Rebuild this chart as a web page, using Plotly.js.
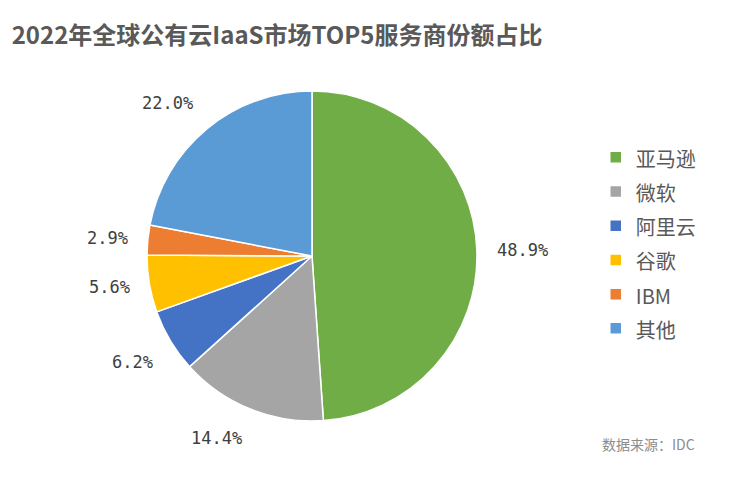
<!DOCTYPE html>
<html>
<head>
<meta charset="utf-8">
<script src="https://cdn.plot.ly/plotly-3.0.1.min.js"></script>
<style>
  html, body { margin: 0; padding: 0; background: #fff; }
  #chart { width: 731px; height: 477px; }
</style>
</head>
<body>
<div id="chart"></div>
<script>
// 2022 global public cloud IaaS share, top 5 vendors
const vendors = ['亚马逊', '微软', '阿里云', '谷歌', 'IBM', '其他'];
const shares = [48.9, 14.4, 6.2, 5.6, 2.9, 22.0];
const sliceColors = ['#70AD47', '#A5A5A5', '#4472C4', '#FFC000', '#ED7D31', '#5B9BD5'];

const W = 731, H = 477;
const pieDomain = { x: [0.2011, 0.6525], y: [0.1174, 0.8092] };

const cjk = '"Noto Sans CJK SC", "Noto Sans", sans-serif';

// legend font is large only to space the rows; the visible text is smaller
const legendLabels = vendors.map(v => `<span style="font-size:20px">${v}</span>`);

// percent labels sit a little off the rim, at each slice's middle angle
function sliceLabels() {
    const cx = (pieDomain.x[0] + pieDomain.x[1]) / 2;
    const cy = (pieDomain.y[0] + pieDomain.y[1]) / 2;
    const r = Math.min((pieDomain.x[1] - pieDomain.x[0]) * W, (pieDomain.y[1] - pieDomain.y[0]) * H) / 2;
    const total = shares.reduce((a, b) => a + b, 0);
    const gap = 18;
    let cum = 0;
    return shares.map(v => {
        const mid = (cum + v / 2) / total * 2 * Math.PI;
        cum += v;
        const ux = Math.sin(mid), uy = Math.cos(mid); // uy points up
        const d = r + gap;
        return {
            text: v.toFixed(1) + '%',
            xref: 'paper', yref: 'paper',
            x: cx + d * ux / W,
            y: cy + d * uy / H,
            xanchor: ux > 0.3 ? 'left' : (ux < -0.3 ? 'right' : 'center'),
            yanchor: uy > 0.3 ? 'bottom' : (uy < -0.3 ? 'top' : 'middle'),
            showarrow: false,
            font: { family: '"DejaVu Sans Mono", monospace', size: 17, color: '#404040' }
        };
    });
}

const trace = {
    type: 'pie',
    labels: legendLabels,
    values: shares,
    sort: false,
    direction: 'clockwise',
    rotation: 0,
    marker: { colors: sliceColors, line: { color: '#ffffff', width: 1.5 } },
    textinfo: 'none',
    hoverinfo: 'none',
    domain: pieDomain
};

const layout = {
    width: W,
    height: H,
    margin: { l: 0, r: 0, t: 0, b: 0 },
    paper_bgcolor: '#ffffff',
    title: {
        text: '<b>2022年全球公有云IaaS市场TOP5服务商份额占比</b>',
        font: { family: cjk, size: 24, color: '#595959' },
        x: 0.016, xanchor: 'left',
        y: 0.925, yanchor: 'middle'
    },
    showlegend: true,
    legend: {
        x: 0.815, xanchor: 'left',
        y: 0.49, yanchor: 'middle',
        font: { family: cjk, size: 24, color: '#595959' },
        bgcolor: 'rgba(0,0,0,0)'
    },
    annotations: sliceLabels().concat([{
        text: '数据来源：IDC',
        xref: 'paper', yref: 'paper',
        x: 0.953, xanchor: 'right',
        y: 0.07, yanchor: 'middle',
        showarrow: false,
        font: { family: cjk, size: 14, color: '#8c8c8c' }
    }])
};

Plotly.newPlot('chart', [trace], layout, { displayModeBar: false, staticPlot: true });
</script>
</body>
</html>
